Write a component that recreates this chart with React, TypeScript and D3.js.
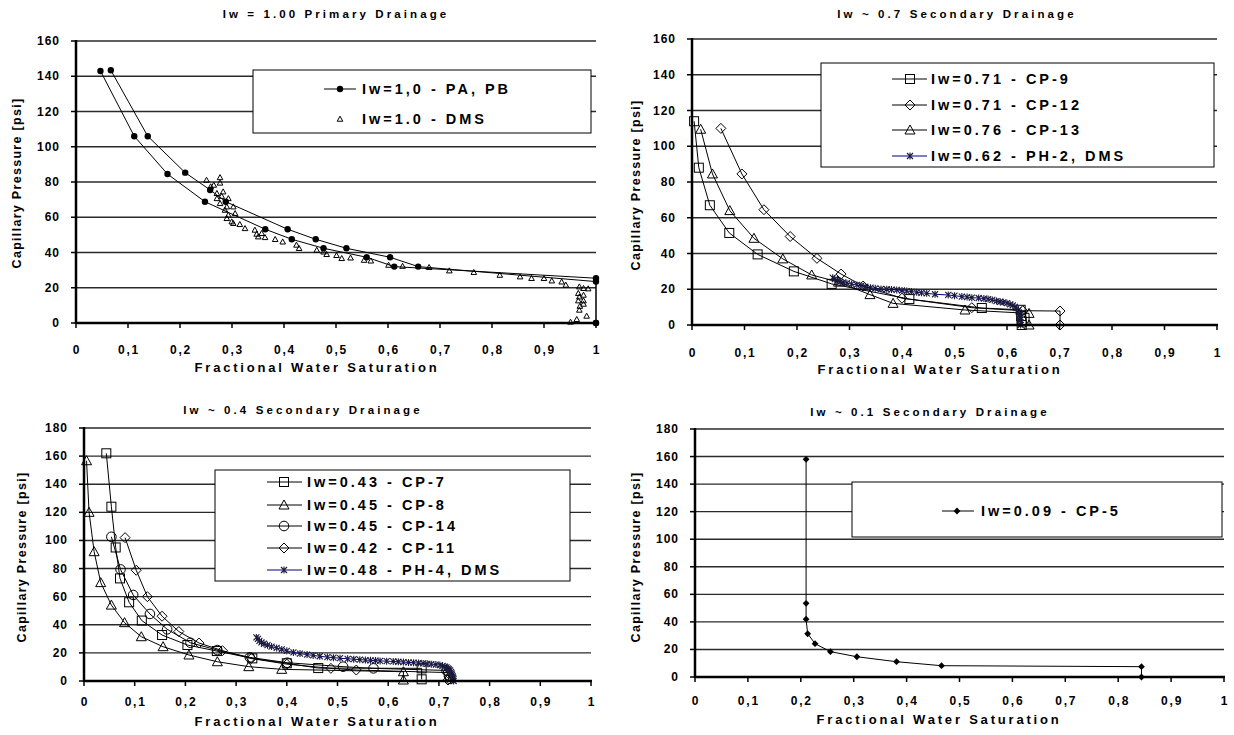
import React from 'react';
import * as d3 from 'd3';

type Pt = [number, number];

// ---------- Iw = 1.00 primary drainage ----------
const pa: Pt[] = [[0.047,143],[0.112,106],[0.176,84.5],[0.248,68.8],[0.364,53.2],[0.415,47.5],[0.476,42.4],[0.559,37.3],[0.612,32],[1,25.4],[1,0]];
const pb: Pt[] = [[0.067,143.4],[0.138,106],[0.21,85.3],[0.258,75.5],[0.288,68.8],[0.407,53.2],[0.461,47.5],[0.52,42.4],[0.604,37.3],[0.658,32],[1,23.5],[1,0]];
const dms1: Pt[] = [
  [0.251,81.1],[0.259,77.4],[0.265,78.3],[0.277,82.6],[0.277,79.5],[0.283,74.5],[0.271,73.6],[0.28,72],
  [0.293,70.7],[0.271,70.7],[0.277,67.9],[0.29,66],[0.3025,66],[0.2865,64.1],[0.306,62.2],[0.293,61.3],
  [0.29,59.4],[0.2995,57.5],[0.3025,56.6],[0.315,56],[0.325,53.7],[0.344,52.8],[0.3475,50.5],[0.357,50.9],
  [0.3635,48.6],[0.3505,49],[0.383,47.5],[0.3975,46.1],[0.424,44.3],[0.429,42.4],[0.463,41.4],[0.476,40.4],
  [0.482,39],[0.501,38.4],[0.511,36.7],[0.528,37],[0.554,35.7],[0.567,35.3],[0.601,32.9],[0.628,32.3],
  [0.679,31.6],[0.718,29.7],[0.765,28.8],[0.815,27.2],[0.854,26.3],[0.876,25.4],[0.9,25.4],[0.915,24],
  [0.934,23.4],[0.942,21.6],[0.968,20.6],[0.976,19.7],[0.985,19.5],[0.966,16.9],[0.968,14.9],[0.976,15.9],
  [0.966,12.7],[0.976,12.7],[0.969,9.6],[0.976,10.8],[0.968,7.4],[0.982,4],[0.963,2.1],[0.951,0.6],
];

// ---------- Iw ~ 0.7 secondary drainage ----------
const cp9: Pt[] = [[0.004,114],[0.013,88],[0.034,67],[0.071,51.5],[0.125,39.5],[0.194,30],[0.266,23],[0.414,14.5],[0.552,9.5],[0.626,8.5],[0.627,5],[0.628,2],[0.628,0]];
const cp12: Pt[] = [[0.055,110],[0.095,84.5],[0.137,64.5],[0.187,49.5],[0.238,37.3],[0.284,28.5],[0.326,21.8],[0.4,15],[0.533,9.7],[0.63,8],[0.701,7.8],[0.701,0]];
const cp13: Pt[] = [[0.0165,109.5],[0.039,84.5],[0.072,64],[0.118,48.5],[0.173,37],[0.228,28],[0.279,24],[0.339,17],[0.383,12.1],[0.52,8.4],[0.642,6.5],[0.642,0]];
const ph2: Pt[] = [
  [0.268,26.5],[0.272,25.7],[0.277,25],[0.282,24.2],[0.288,23.8],[0.295,23.4],[0.304,22.9],[0.314,22.4],
  [0.322,21.9],[0.33,21.4],[0.34,20.9],[0.349,20.5],[0.36,20.2],[0.371,20],[0.38,19.8],[0.39,19.6],
  [0.4,19.3],[0.409,19],[0.418,18.7],[0.428,18.3],[0.437,18],[0.447,17.7],[0.463,17.2],[0.488,16.8],
  [0.5,16.4],[0.514,15.9],[0.524,15.6],[0.533,15.3],[0.546,15.1],[0.556,14.8],[0.564,14.5],[0.572,14],
  [0.58,13.4],[0.587,13],[0.593,12.7],[0.6,12.2],[0.606,11.6],[0.611,11],[0.615,10.2],[0.618,9.4],
  [0.622,8.4],[0.623,7],[0.624,5.6],[0.625,4.2],[0.625,2.8],[0.626,1.4],[0.626,0],
];

// ---------- Iw ~ 0.4 secondary drainage ----------
const cp7: Pt[] = [[0.044,162],[0.054,124],[0.0625,95],[0.071,73],[0.089,56],[0.114,43],[0.154,32.7],[0.204,25.6],[0.262,21.3],[0.332,16.1],[0.4,12.6],[0.462,9.2],[0.666,9],[0.666,1.2]];
const cp8: Pt[] = [[0.005,156.7],[0.01,120],[0.02,92],[0.033,70],[0.054,54],[0.08,41.5],[0.113,31.5],[0.156,24.4],[0.207,18.5],[0.263,13.7],[0.325,10.2],[0.39,8.3],[0.63,6.6],[0.63,0.7]];
const cp14: Pt[] = [[0.054,102.6],[0.072,79.4],[0.097,61.2],[0.13,47.7],[0.164,36.8],[0.21,27.2],[0.263,22],[0.327,16.8],[0.401,13],[0.511,10.2],[0.571,9],[0.715,7.5],[0.72,4],[0.722,1.5]];
const cp11: Pt[] = [[0.081,102],[0.103,78.8],[0.125,60],[0.154,46.1],[0.187,35.2],[0.227,27],[0.273,21.6],[0.33,16],[0.4,12],[0.487,9],[0.537,7.8],[0.717,6],[0.72,3],[0.718,0.7]];
const ph4: Pt[] = [
  [0.34,31],[0.343,30],[0.346,28.5],[0.35,27.5],[0.355,26.5],[0.362,25.5],[0.37,24.5],[0.38,23.5],
  [0.39,22.5],[0.4,21.5],[0.413,20.3],[0.426,19.5],[0.44,18.8],[0.452,18.2],[0.465,17.6],[0.48,17],
  [0.492,16.6],[0.505,16.2],[0.52,15.8],[0.532,15.5],[0.544,15.2],[0.555,14.9],[0.565,14.7],[0.575,14.5],
  [0.584,14.3],[0.597,14.1],[0.61,13.9],[0.62,13.7],[0.63,13.5],[0.64,13.2],[0.65,13],[0.66,12.8],
  [0.669,12.5],[0.677,12.2],[0.685,12],[0.694,11.7],[0.702,11.3],[0.707,10.8],[0.712,10.3],[0.715,9.7],
  [0.718,9],[0.72,8.2],[0.722,7.5],[0.724,6.5],[0.725,5.5],[0.726,4.5],[0.727,3.5],[0.728,2.5],[0.729,1.5],[0.729,0],
];

// ---------- Iw ~ 0.1 secondary drainage ----------
const cp5: Pt[] = [[0.21,158],[0.21,53.5],[0.21,42],[0.213,31.4],[0.227,24.2],[0.256,18.4],[0.306,14.7],[0.381,11.1],[0.466,8.2],[0.844,7.5],[0.844,0]];

// ---------- axis ticks ----------
const xTicks = [0, 0.1, 0.2, 0.3, 0.4, 0.5, 0.6, 0.7, 0.8, 0.9, 1];
const xTickLabels = ['0', '0,1', '0,2', '0,3', '0,4', '0,5', '0,6', '0,7', '0,8', '0,9', '1'];
const yTicks160 = [0, 20, 40, 60, 80, 100, 120, 140, 160];
const yTicks180 = [0, 20, 40, 60, 80, 100, 120, 140, 160, 180];

type MarkerKind = 'dot' | 'smallTri' | 'square' | 'diamond' | 'triangle' | 'circle' | 'star' | 'solidDiamond' | 'none';

interface Series {
  name: string;
  curves: Pt[][];
  marker: MarkerKind;
  line: boolean;
  color: string;
}

interface Legend {
  x: number; y: number; w: number; h: number;
  rows: number[]; s0: number; s1: number; mx: number; tx: number;
}

interface PanelCfg {
  x0: number; x1: number; yTop: number; yBot: number; yMax: number; yTicks: number[];
  title: string; titleX: number; titleY: number;
  xLabelY: number; xTitleX: number; xTitleY: number;
  yTitleX: number; yTitleY: number;
  legend: Legend;
  series: Series[];
}

const FONT = '"Liberation Sans", Arial, Helvetica, sans-serif';
const NAVY = '#000080';

function Marker({ kind, x, y }: { kind: MarkerKind; x: number; y: number }) {
  switch (kind) {
    case 'dot':
      return <circle cx={x} cy={y} r={3.2} fill="#000" />;
    case 'smallTri': {
      const s = 2.8;
      return <path d={`M${x},${y - s}L${x + s},${y + s * 0.8}L${x - s},${y + s * 0.8}Z`} fill="none" stroke="#000" strokeWidth={1} />;
    }
    case 'square':
      return <rect x={x - 4.5} y={y - 4.5} width={9} height={9} fill="none" stroke="#000" strokeWidth={1} />;
    case 'diamond': {
      const s = 5;
      return <path d={`M${x},${y - s}L${x + s},${y}L${x},${y + s}L${x - s},${y}Z`} fill="none" stroke="#000" strokeWidth={1} />;
    }
    case 'triangle': {
      const s = 5;
      return <path d={`M${x},${y - s}L${x + s},${y + s * 0.8}L${x - s},${y + s * 0.8}Z`} fill="none" stroke="#000" strokeWidth={1} />;
    }
    case 'circle':
      return <circle cx={x} cy={y} r={4.8} fill="none" stroke="#000" strokeWidth={1} />;
    case 'star': {
      const s = 3;
      return (
        <path
          d={`M${x - s},${y - s}L${x + s},${y + s}M${x - s},${y + s}L${x + s},${y - s}M${x},${y - s - 0.5}L${x},${y + s + 0.5}`}
          fill="none" stroke="#1a1a3a" strokeWidth={1.1}
        />
      );
    }
    case 'solidDiamond': {
      const s = 3.4;
      return <path d={`M${x},${y - s}L${x + s},${y}L${x},${y + s}L${x - s},${y}Z`} fill="#000" />;
    }
    default:
      return null;
  }
}

function Panel({ cfg }: { cfg: PanelCfg }) {
  const xs = d3.scaleLinear().domain([0, 1]).range([cfg.x0, cfg.x1]);
  const ys = d3.scaleLinear().domain([0, cfg.yMax]).range([cfg.yBot, cfg.yTop]);
  const line = d3.line<Pt>().x((d) => xs(d[0])).y((d) => ys(d[1]));
  const lg = cfg.legend;
  return (
    <g>
      {/* horizontal gridlines */}
      {cfg.yTicks.filter((t) => t > 0).map((t) => (
        <line key={`g${t}`} x1={cfg.x0} x2={cfg.x1} y1={ys(t)} y2={ys(t)} stroke="#2a2a2a" strokeWidth={1.4} />
      ))}

      {/* series */}
      {cfg.series.map((s, si) => (
        <g key={`s${si}`}>
          {s.line && s.curves.map((c, ci) => (
            <path key={ci} d={line(c) || ''} fill="none" stroke={s.color} strokeWidth={1} />
          ))}
          {s.curves.map((c, ci) =>
            c.map((p, pi) => <Marker key={`${ci}-${pi}`} kind={s.marker} x={xs(p[0])} y={ys(p[1])} />)
          )}
        </g>
      ))}

      {/* axes */}
      <line x1={cfg.x0} x2={cfg.x0} y1={cfg.yTop - 1} y2={cfg.yBot + 1} stroke="#000" strokeWidth={2.5} />
      {cfg.yTicks.map((t) => (
        <line key={`yt${t}`} x1={cfg.x0 - 5} x2={cfg.x0} y1={ys(t)} y2={ys(t)} stroke="#000" strokeWidth={1.5} />
      ))}
      <line x1={cfg.x0} x2={cfg.x1 + 1} y1={cfg.yBot} y2={cfg.yBot} stroke="#000" strokeWidth={2.5} />
      {xTicks.map((t) => (
        <line key={`xt${t}`} x1={xs(t)} x2={xs(t)} y1={cfg.yBot} y2={cfg.yBot + 5} stroke="#000" strokeWidth={1.5} />
      ))}

      {/* tick labels */}
      <g fontFamily={FONT} fontWeight="bold" fontSize={12} fill="#000">
        {cfg.yTicks.map((t) => (
          <text key={`yl${t}`} x={cfg.x0 - 16} y={ys(t)} textAnchor="end" dominantBaseline="central" letterSpacing={1}>
            {t}
          </text>
        ))}
        {xTicks.map((t, i) => (
          <text key={`xl${t}`} x={xs(t) + 1} y={cfg.xLabelY} textAnchor="middle" letterSpacing={1.8}>
            {xTickLabels[i]}
          </text>
        ))}
      </g>

      {/* titles */}
      <text x={cfg.titleX} y={cfg.titleY} textAnchor="middle" fontFamily={FONT} fontWeight="bold" fontSize={11.5} letterSpacing={3.1}>
        {cfg.title}
      </text>
      <text x={cfg.xTitleX} y={cfg.xTitleY} textAnchor="middle" fontFamily={FONT} fontWeight="bold" fontSize={13} letterSpacing={2.8}>
        Fractional Water Saturation
      </text>
      <text
        x={cfg.yTitleX} y={cfg.yTitleY} textAnchor="middle" dominantBaseline="central"
        transform={`rotate(-90 ${cfg.yTitleX} ${cfg.yTitleY})`}
        fontFamily={FONT} fontWeight="bold" fontSize={12.5} letterSpacing={1.3}
      >
        Capillary Pressure [psi]
      </text>

      {/* legend */}
      <rect x={lg.x} y={lg.y} width={lg.w} height={lg.h} fill="#fff" stroke="#000" strokeWidth={1} />
      {cfg.series.map((s, i) => (
        <g key={`lg${i}`}>
          {s.line && <line x1={lg.s0} x2={lg.s1} y1={lg.rows[i]} y2={lg.rows[i]} stroke={s.color} strokeWidth={1} />}
          <Marker kind={s.marker} x={lg.mx} y={lg.rows[i]} />
          <text x={lg.tx} y={lg.rows[i]} dominantBaseline="central" fontFamily={FONT} fontWeight="bold" fontSize={14.5} letterSpacing={3}>
            {s.name}
          </text>
        </g>
      ))}
    </g>
  );
}

const panels: PanelCfg[] = [
  {
    x0: 76, x1: 596, yTop: 41, yBot: 323, yMax: 160, yTicks: yTicks160,
    title: 'Iw = 1.00 Primary Drainage', titleX: 336, titleY: 18,
    xLabelY: 354, xTitleX: 317, xTitleY: 372, yTitleX: 17, yTitleY: 183,
    legend: { x: 253, y: 70, w: 338, h: 63, rows: [89, 119], s0: 324, s1: 356, mx: 340, tx: 362 },
    series: [
      { name: 'Iw=1,0 - PA, PB', curves: [pa, pb], marker: 'dot', line: true, color: '#000' },
      { name: 'Iw=1.0 - DMS', curves: [dms1], marker: 'smallTri', line: false, color: '#000' },
    ],
  },
  {
    x0: 692, x1: 1217, yTop: 39, yBot: 325, yMax: 160, yTicks: yTicks160,
    title: 'Iw ~ 0.7 Secondary Drainage', titleX: 957, titleY: 18,
    xLabelY: 357, xTitleX: 940, xTitleY: 374, yTitleX: 636, yTitleY: 185,
    legend: { x: 821, y: 63, w: 393, h: 104, rows: [79, 105, 130, 156], s0: 892, s1: 927, mx: 910, tx: 931 },
    series: [
      { name: 'Iw=0.71 - CP-9', curves: [cp9], marker: 'square', line: true, color: '#000' },
      { name: 'Iw=0.71 - CP-12', curves: [cp12], marker: 'diamond', line: true, color: '#000' },
      { name: 'Iw=0.76 - CP-13', curves: [cp13], marker: 'triangle', line: true, color: '#000' },
      { name: 'Iw=0.62 - PH-2, DMS', curves: [ph2], marker: 'star', line: true, color: NAVY },
    ],
  },
  {
    x0: 84, x1: 591, yTop: 428, yBot: 681, yMax: 180, yTicks: yTicks180,
    title: 'Iw ~ 0.4 Secondary Drainage', titleX: 303, titleY: 414,
    xLabelY: 706, xTitleX: 317, xTitleY: 726, yTitleX: 22, yTitleY: 557,
    legend: { x: 215, y: 470, w: 355, h: 111, rows: [482, 505, 526, 548, 570], s0: 267, s1: 302, mx: 284, tx: 307 },
    series: [
      { name: 'Iw=0.43 - CP-7', curves: [cp7], marker: 'square', line: true, color: '#000' },
      { name: 'Iw=0.45 - CP-8', curves: [cp8], marker: 'triangle', line: true, color: '#000' },
      { name: 'Iw=0.45 - CP-14', curves: [cp14], marker: 'circle', line: true, color: '#000' },
      { name: 'Iw=0.42 - CP-11', curves: [cp11], marker: 'diamond', line: true, color: '#000' },
      { name: 'Iw=0.48 - PH-4, DMS', curves: [ph4], marker: 'star', line: true, color: NAVY },
    ],
  },
  {
    x0: 695, x1: 1224, yTop: 429, yBot: 677, yMax: 180, yTicks: yTicks180,
    title: 'Iw ~ 0.1 Secondary Drainage', titleX: 930, titleY: 416,
    xLabelY: 705, xTitleX: 939, xTitleY: 724, yTitleX: 636, yTitleY: 557,
    legend: { x: 852, y: 482, w: 370, h: 55, rows: [511], s0: 942, s1: 974, mx: 957, tx: 981 },
    series: [
      { name: 'Iw=0.09 - CP-5', curves: [cp5], marker: 'solidDiamond', line: true, color: '#000' },
    ],
  },
];

export default function App() {
  return (
    <svg
      width={1234} height={735} viewBox="0 0 1234 735"
      style={{ position: 'absolute', left: 0, top: 0, background: '#fff' }}
    >
      <rect width={1234} height={735} fill="#fff" />
      {panels.map((p, i) => (
        <Panel key={i} cfg={p} />
      ))}
    </svg>
  );
}
